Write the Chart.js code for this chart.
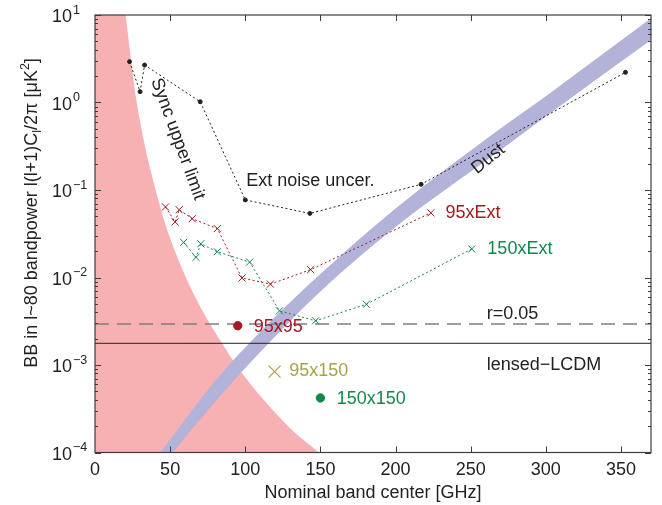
<!DOCTYPE html>
<html>
<head>
<meta charset="utf-8">
<script src="https://cdn.jsdelivr.net/npm/chart.js@4.4.1/dist/chart.umd.min.js"></script>
<style>
  html, body { margin: 0; padding: 0; background: #fff; }
  #wrap { width: 662px; height: 505px; }
</style>
</head>
<body>
<div id="wrap"><canvas id="bbChart" width="662" height="505"></canvas></div>
<script>
// values
const extGHz = [23, 30, 33, 70, 100, 143, 217, 353];
const extNoise = [2.93, 1.33, 2.68, 1.02, 0.077, 0.054, 0.116, 2.21];

const x95GHz = [46.9, 53.3, 56.0, 64.7, 81.4, 97.8, 116.7, 143.5, 223.5];
const x95Ext = [0.064, 0.0432, 0.0595, 0.047, 0.0362, 0.00987, 0.0084, 0.0123, 0.0548];

const x150GHz = [59.0, 67.2, 70.4, 81.4, 102.9, 122.8, 146.8, 180.6, 250.7];
const x150Ext = [0.0252, 0.017, 0.0243, 0.0197, 0.015, 0.00416, 0.0032, 0.00494, 0.0212];

const autoNames = ['95x95', '95x150', '150x150'];
const autoGHz = [95, 119.5, 150];
const autoBB = [0.00281, 0.00084, 0.00042];

const rLevel = 0.00294;      // r=0.05
const lensedLevel = 0.00177; // lensed-LCDM

const syncGHz = [0, 20.4, 27.8, 43.3, 51.1, 67.8, 84.4, 94.9, 112.2, 133.3, 148.9, 165];
const syncLimit = [1e4, 10, 1, 0.065, 0.025, 0.0055, 0.00178, 0.00095, 0.0004, 0.000166, 0.0001, 0.00005];

const dustGHz = [42, 50, 80, 110, 150, 200, 270, 300, 370];
const dustHigh = [9.3e-5, 1.41e-4, 6.6e-4, 2.4e-3, 0.01094, 0.0614, 0.507, 1.18, 9.16];
const dustLow = [6.0e-5, 9.1e-5, 3.8e-4, 1.41e-3, 6.93e-3, 0.0378, 0.286, 0.693, 5.18];

const yDecades = [-4, -3, -2, -1, 0, 1];

const FONT = '"Liberation Sans", Arial, Helvetica, sans-serif';
const INK = '#222222';
const RED = '#a31a21';
const GREEN = '#13884a';
const OLIVE = '#a8a24a';
const PINK = 'rgb(247,177,179)';
const LAVENDER = 'rgb(179,179,217)';

Chart.defaults.font.family = FONT;

const xy = (xs, ys) => xs.map((x, i) => ({ x: x, y: ys[i] }));

// annotation placement (data units)
const notes = [
    { text: 'Ext noise uncer.', ghz: 100.7, bb: 0.127, color: INK },
    { text: '95xExt', ghz: 233.3, bb: 0.0542, color: RED },
    { text: '150xExt', ghz: 261.1, bb: 0.0212, color: GREEN },
    { text: 'r=0.05', ghz: 260.7, bb: 0.00383, color: INK },
    { text: 'lensed\u2212LCDM', ghz: 260.7, bb: 0.001, color: INK },
    { text: '95x95', ghz: 105.6, bb: 0.00274, color: RED },
    { text: '95x150', ghz: 129.3, bb: 0.00086, color: OLIVE },
    { text: '150x150', ghz: 160.9, bb: 0.000413, color: GREEN },
    { text: 'Sync upper limit', ghz: 55, bb: 0.383, color: INK, angle: 70 },
    { text: 'Dust', ghz: 261.7, bb: 0.226, color: INK, angle: -38.7 }
];

// box, inward ticks, log tick labels and y title
const axesBox = {
    id: 'axesBox',
    afterDraw(chart) {
        const { ctx, chartArea: a, scales: { x, y } } = chart;
        ctx.save();
        ctx.strokeStyle = '#3c3c3c';
        ctx.lineWidth = 1.2;
        ctx.strokeRect(a.left, a.top, a.right - a.left, a.bottom - a.top);
        ctx.lineWidth = 1;
        ctx.beginPath();
        for (let v = 50; v <= 350; v += 50) {
            const px = Math.round(x.getPixelForValue(v)) + 0.5;
            ctx.moveTo(px, a.bottom); ctx.lineTo(px, a.bottom - 6);
            ctx.moveTo(px, a.top); ctx.lineTo(px, a.top + 6);
        }
        yDecades.forEach(e => {
            for (let m = 1; m <= 9; m++) {
                const v = m * Math.pow(10, e);
                if (v > 10.0001) continue;
                const py = Math.round(y.getPixelForValue(v)) + 0.5;
                const len = m === 1 ? 6 : 3;
                ctx.moveTo(a.left, py); ctx.lineTo(a.left + len, py);
                ctx.moveTo(a.right, py); ctx.lineTo(a.right - len, py);
            }
        });
        ctx.stroke();

        // y tick labels 10^e
        ctx.fillStyle = INK;
        yDecades.forEach(e => {
            const py = y.getPixelForValue(Math.pow(10, e));
            ctx.font = '18px ' + FONT;
            ctx.textAlign = 'right';
            ctx.textBaseline = 'middle';
            ctx.fillText('10', 72, py + 2.5);
            ctx.font = '12.5px ' + FONT;
            ctx.textAlign = 'left';
            ctx.fillText(String(e).replace('-', '\u2212'), 73, py - 4.5);
        });

        // y title with subscript and superscript
        const parts = [
            { t: 'BB in l~80 bandpower l(l+1)C', s: 18, dy: 0 },
            { t: 'l', s: 12.5, dy: 4 },
            { t: '/2\u03c0 [\u03bcK', s: 18, dy: 0 },
            { t: '2', s: 12.5, dy: -8 },
            { t: ']', s: 18, dy: 0 }
        ];
        let total = 0;
        parts.forEach(p => { ctx.font = p.s + 'px ' + FONT; p.w = ctx.measureText(p.t).width; total += p.w; });
        ctx.translate(37, 213);
        ctx.rotate(-Math.PI / 2);
        ctx.textAlign = 'left';
        ctx.textBaseline = 'alphabetic';
        let cx = -total / 2;
        parts.forEach(p => {
            ctx.font = p.s + 'px ' + FONT;
            ctx.fillText(p.t, cx, p.dy);
            cx += p.w;
        });
        ctx.restore();
    }
};

const noteLabels = {
    id: 'noteLabels',
    afterDatasetsDraw(chart) {
        const { ctx, scales: { x, y } } = chart;
        ctx.save();
        ctx.font = '18px ' + FONT;
        ctx.textBaseline = 'middle';
        notes.forEach(n => {
            const px = x.getPixelForValue(n.ghz);
            const py = y.getPixelForValue(n.bb);
            ctx.fillStyle = n.color;
            if (n.angle !== undefined) {
                ctx.save();
                ctx.translate(px, py);
                ctx.rotate(n.angle * Math.PI / 180);
                ctx.textAlign = 'center';
                ctx.fillText(n.text, 0, 0);
                ctx.restore();
            } else {
                ctx.textAlign = 'left';
                ctx.fillText(n.text, px, py);
            }
        });
        ctx.restore();
    }
};

const dotted = [2, 2.5];

new Chart(document.getElementById('bbChart'), {
    type: 'line',
    data: {
        datasets: [
            {   // 0
                label: 'Ext noise uncer.',
                data: xy(extGHz, extNoise),
                borderColor: INK, borderWidth: 1, borderDash: dotted,
                pointStyle: 'circle', pointRadius: 2,
                pointBackgroundColor: INK, pointBorderColor: INK,
                order: 1
            },
            {   // 1
                label: '95xExt',
                data: xy(x95GHz, x95Ext),
                borderColor: RED, borderWidth: 1, borderDash: dotted,
                pointStyle: 'crossRot', pointRadius: 5, pointBorderWidth: 1,
                pointBorderColor: RED,
                order: 1
            },
            {   // 2
                label: '150xExt',
                data: xy(x150GHz, x150Ext),
                borderColor: GREEN, borderWidth: 1, borderDash: dotted,
                pointStyle: 'crossRot', pointRadius: 5, pointBorderWidth: 1,
                pointBorderColor: GREEN,
                order: 1
            },
            {   // 3
                label: 'auto/cross',
                data: xy(autoGHz, autoBB),
                showLine: false,
                pointStyle: ['circle', 'crossRot', 'circle'],
                pointRadius: [4.2, 8.5, 4.2],
                pointBorderWidth: [1, 1.2, 1],
                pointBackgroundColor: [RED, OLIVE, GREEN],
                pointBorderColor: [RED, OLIVE, GREEN],
                order: 0
            },
            {   // 4
                label: 'r=0.05',
                data: [{ x: 0, y: rLevel }, { x: 370, y: rLevel }],
                borderColor: '#7f7f7f', borderWidth: 1.6, borderDash: [14, 8],
                pointRadius: 0,
                order: 2
            },
            {   // 5
                label: 'lensed-LCDM',
                data: [{ x: 0, y: lensedLevel }, { x: 370, y: lensedLevel }],
                borderColor: INK, borderWidth: 1,
                pointRadius: 0,
                order: 2
            },
            {   // 6
                label: 'Dust high',
                data: xy(dustGHz, dustHigh),
                borderColor: 'rgba(0,0,0,0)', borderWidth: 1,
                backgroundColor: LAVENDER, fill: '+1',
                cubicInterpolationMode: 'monotone',
                pointRadius: 0, clip: 0,
                order: 8
            },
            {   // 7
                label: 'Dust low',
                data: xy(dustGHz, dustLow),
                borderColor: 'rgba(0,0,0,0)', borderWidth: 1,
                fill: false,
                cubicInterpolationMode: 'monotone',
                pointRadius: 0, clip: 0,
                order: 9
            },
            {   // 8
                label: 'Sync upper limit',
                data: xy(syncGHz, syncLimit),
                borderColor: 'rgba(0,0,0,0)', borderWidth: 1,
                backgroundColor: PINK, fill: 'start',
                cubicInterpolationMode: 'monotone',
                pointRadius: 0, clip: 0,
                order: 10
            }
        ]
    },
    options: {
        responsive: false,
        animation: false,
        layout: { padding: { top: 15, right: 11, left: 0, bottom: 0 } },
        plugins: {
            legend: { display: false },
            tooltip: { enabled: false }
        },
        scales: {
            x: {
                type: 'linear', min: 0, max: 370,
                grid: { display: false, drawTicks: false },
                border: { display: false },
                ticks: {
                    stepSize: 50, includeBounds: false, maxRotation: 0,
                    color: INK, font: { size: 18 }, padding: 7
                },
                title: {
                    display: true, text: 'Nominal band center [GHz]',
                    color: INK, font: { size: 18 }, padding: { top: 1, bottom: 1 }
                },
                afterFit: s => { s.height = 52.5; }
            },
            y: {
                type: 'logarithmic', min: 1e-4, max: 10,
                grid: { display: false, drawTicks: false },
                border: { display: false },
                ticks: { display: false },
                afterFit: s => { s.width = 95; }
            }
        }
    },
    plugins: [axesBox, noteLabels]
});
</script>
</body>
</html>
